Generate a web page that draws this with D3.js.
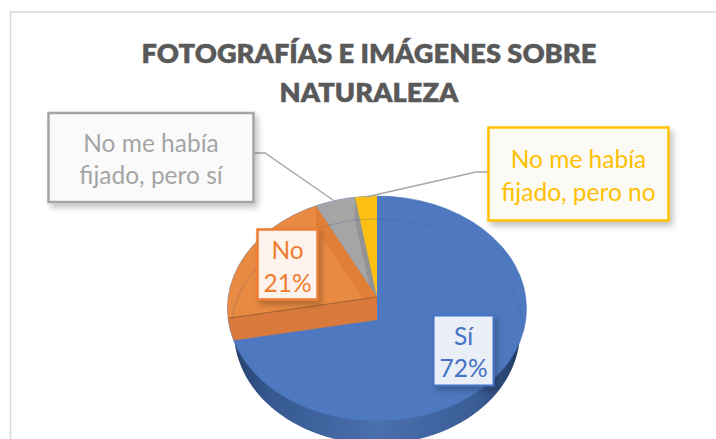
<!DOCTYPE html>
<html><head><meta charset="utf-8">
<script src="https://cdn.jsdelivr.net/npm/d3@7/dist/d3.min.js"></script>
<style>html,body{margin:0;padding:0;background:#fff;overflow:hidden}svg{display:block}</style>
</head><body><div id="c"></div>
<script>
const titleLines = ["FOTOGRAFÍAS E IMÁGENES SOBRE", "NATURALEZA"];
const categories = ["Sí", "No", "No me había fijado, pero sí", "No me había fijado, pero no"];
const values = [72, 20.6, 4.8, 2.6];
const labelLines = [["Sí", "72%"], ["No", "21%"], ["No me había", "fijado, pero sí"], ["No me había", "fijado, pero no"]];
const colors = ["#4e79c1", "#e98a42", "#a5a5a5", "#ffc014"];
const bandColors = ["#44689f", "#e27f37", "#939393", "#ffc014"];
const wallColors = ["#3f639c", "#d97a3c", "#8f8f8f", "#d9a400"];
const textColors = ["#4472c4", "#ed7d31", "#a5a5a5", "#ffc000"];
const boxes = [
  {x:433.5,y:315.5,w:60,h:70,fill:"#e9eef7",sw:2,lh:32,ty:345},
  {x:257.5,y:229.5,w:60,h:70,fill:"#fdf3ec",sw:2.5,lh:33,ty:259},
  {x:48.5,y:113,w:205,h:89,fill:"#fafafa",sw:2.5,lh:32,ty:152},
  {x:488.5,y:127.5,w:180,h:93,fill:"#fbfaf5",sw:2.5,lh:33,ty:168}
];
const leaders = [null, null, [[253,153],[265,153],[333,200]], [[488,172],[476,172],[366,197]]];

const W = 716, H = 439;
const svg = d3.select("#c").append("svg").attr("width", W).attr("height", H);
const defs = svg.append("defs");

const f = defs.append("filter").attr("id","sh").attr("x","-20%").attr("y","-20%").attr("width","150%").attr("height","150%");
f.append("feDropShadow").attr("dx",3).attr("dy",4).attr("stdDeviation",3).attr("flood-color","#000").attr("flood-opacity",0.25);

const wg = defs.append("linearGradient").attr("id","wall").attr("x1",0).attr("x2",1).attr("y1",0).attr("y2",0);
[[0,"#26406e"],[0.12,"#35588f"],[0.5,"#4a70ad"],[0.85,"#3a5d96"],[1,"#223a63"]].forEach(s=>wg.append("stop").attr("offset",s[0]).attr("stop-color",s[1]));

svg.append("rect").attr("x",10.5).attr("y",12).attr("width",W).attr("height",H).attr("fill","#fff").attr("stroke","#d9d9d9").attr("stroke-width",1.5);

const title = svg.append("g").attr("font-family","Lato").attr("font-weight",800).attr("font-size",27.25).attr("fill","#595959").attr("text-anchor","middle").attr("stroke","#595959").attr("stroke-width",0.35);
titleLines.forEach((t,i)=>title.append("text").attr("x",369).attr("y",63+i*38.5).text(t));

// pie geometry (perspective view of a circle)
const cx = 377, cy = 297, R = 148.7, K = 111.3, P = 0.102, depth = 23;
const ex = {cx:377, cy:308.5, rx:149.5, ry:112.5};
const proj = a => { const w = 1 + P*Math.cos(a); return [cx + R*Math.sin(a)/w, cy - K*Math.cos(a)/w]; };
const arcs = d3.pie().sort(null)(values);
const line = d3.line();
const rim = (a0,a1) => d3.range(0,61).map(i => proj(a0+(a1-a0)*i/60));
const wedge = d => line([[cx,cy], ...rim(d.startAngle,d.endAngle)]) + "Z";

defs.append("clipPath").attr("id","face").append("ellipse").attr("cx",ex.cx).attr("cy",ex.cy).attr("rx",ex.rx).attr("ry",ex.ry);

// side wall
const wallRx = 143, rimRx = 146;
svg.append("path")
  .attr("d", d3.line()(d3.range(0,61).map(i=>{const t=Math.PI*(i/60);return [ex.cx+wallRx*Math.cos(t), ex.cy+depth+ex.ry*Math.sin(t)];}))+"Z")
  .attr("fill","url(#wall)");

// top face, first slice
svg.append("ellipse").attr("cx",ex.cx).attr("cy",ex.cy).attr("rx",ex.rx).attr("ry",ex.ry).attr("fill",colors[0]).attr("stroke","#4a72b5").attr("stroke-width",0.6);

// other slices with inner band of the neighbouring wall
arcs.slice(1).forEach((d,i)=>{
  const k = i+1;
  const id = "w"+k;
  defs.append("clipPath").attr("id",id).append("path").attr("d",wedge(d));
  svg.append("path").attr("d",wedge(d)).attr("fill",colors[k]);
  const e = proj(d.endAngle);
  svg.append("path").attr("clip-path",`url(#${id})`)
    .attr("d",line([e,[cx,cy],[cx,cy+depth],[e[0],e[1]+depth]])+"Z").attr("fill",bandColors[k]);
});

// inner rim line
svg.append("path")
  .attr("d", d3.line()(d3.range(0,61).map(i=>{const t=Math.PI*(1+i/60);return [ex.cx+rimRx*Math.cos(t), ex.cy+depth+ex.ry*Math.sin(t)];})))
  .attr("fill","none").attr("stroke","#2f5597").attr("stroke-opacity",0.25).attr("stroke-width",1);

// cut wall of the second slice
const s = proj(arcs[1].startAngle);
svg.append("path").attr("clip-path","url(#face)")
  .attr("d",line([[cx,cy],[cx,cy+depth],[s[0],s[1]+depth],s])+"Z")
  .attr("fill",wallColors[1]);
svg.append("path").attr("d",line([[cx,cy],s])).attr("stroke","#a8602f").attr("stroke-width",1).attr("fill","none");

// leaders
leaders.forEach(l=>{ if(l) svg.append("path").attr("d",line(l)).attr("fill","none").attr("stroke","#a6a6a6").attr("stroke-width",1.5); });

// labels
const lab = svg.append("g").attr("font-family","Lato").attr("font-size",24.5).attr("text-anchor","middle");
labelLines.forEach((lines,i)=>{
  const b = boxes[i];
  lab.append("rect").attr("x",b.x).attr("y",b.y).attr("width",b.w).attr("height",b.h).attr("fill",b.fill)
    .attr("stroke",textColors[i]).attr("stroke-width",b.sw).attr("filter","url(#sh)");
  lines.forEach((t,j)=>lab.append("text").attr("x",b.x+b.w/2).attr("y",b.ty+j*b.lh).attr("fill",textColors[i]).text(t));
});
</script></body></html>
